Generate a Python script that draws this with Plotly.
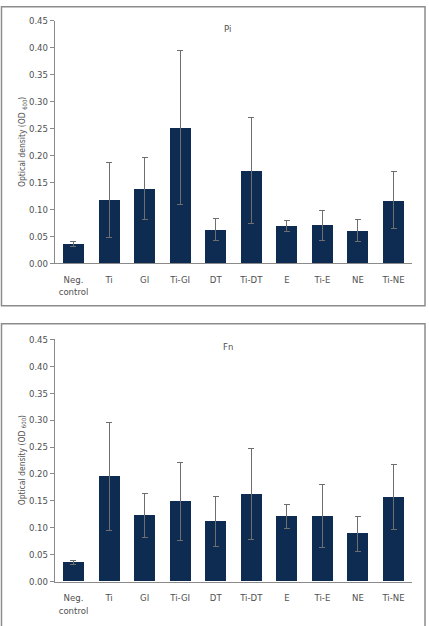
import plotly.graph_objects as go

categories = ["Neg.<br>control", "Ti", "GI", "Ti-GI", "DT", "Ti-DT", "E", "Ti-E", "NE", "Ti-NE"]
pi_values = [0.036, 0.118, 0.139, 0.252, 0.063, 0.172, 0.070, 0.071, 0.061, 0.117]
pi_errors = [0.004, 0.070, 0.057, 0.142, 0.020, 0.098, 0.010, 0.028, 0.021, 0.053]
fn_values = [0.036, 0.195, 0.123, 0.149, 0.112, 0.163, 0.121, 0.122, 0.089, 0.157]
fn_errors = [0.004, 0.100, 0.041, 0.072, 0.047, 0.084, 0.023, 0.059, 0.032, 0.060]
y_ticks = [0.0, 0.05, 0.10, 0.15, 0.20, 0.25, 0.30, 0.35, 0.40, 0.45]
y_ticklabels = ["0.00", "0.05", "0.10", "0.15", "0.20", "0.25", "0.30", "0.35", "0.40", "0.45"]
panel_titles = ["Pi", "Fn"]
y_title = "Optical density (OD <sub>600</sub>)"

W, H = 429, 626
FONT = "DejaVu Sans Condensed, Liberation Sans Narrow, sans-serif"
BAR = "#0e2c52"
AX = "#8a8a8a"
TXT = "#505050"

fig = go.Figure()
x_idx = list(range(len(categories)))
for i, (vals, errs) in enumerate([(pi_values, pi_errors), (fn_values, fn_errors)]):
    sfx = "" if i == 0 else "2"
    fig.add_trace(go.Bar(
        x=x_idx, y=vals, width=0.59, marker=dict(color=BAR, line=dict(width=0)),
        error_y=dict(type="data", array=errs, visible=True, color="#6e6e6e", thickness=1, width=3),
        xaxis="x" + sfx, yaxis="y" + sfx, showlegend=False,
    ))

xdom = [55 / W, 412 / W]
ydom_top = [1 - 262 / H, 1 - 15 / H]
ydom_bot = [1 - 586 / H, 1 - 339.3 / H]

xaxis_common = dict(
    domain=xdom, range=[-0.52, 9.52], tickmode="array", tickvals=x_idx, ticktext=categories,
    showline=True, linecolor=AX, linewidth=1.2, ticks="outside", ticklen=7,
    tickcolor="rgba(0,0,0,0)", showgrid=False, zeroline=False,
    tickfont=dict(family=FONT, size=9.5, color=TXT), fixedrange=True,
)
yaxis_common = dict(
    range=[0, 0.45], tickmode="array", tickvals=y_ticks, ticktext=y_ticklabels,
    showline=True, linecolor=AX, linewidth=1.2, ticks="outside", ticklen=4, tickcolor=AX,
    tickwidth=1, showgrid=False, zeroline=False,
    tickfont=dict(family=FONT, size=9.5, color=TXT),
)

fig.update_layout(
    width=W, height=H, margin=dict(l=0, r=0, t=0, b=0),
    paper_bgcolor="white", plot_bgcolor="white", bargap=0,
    xaxis=dict(anchor="y", **xaxis_common),
    yaxis=dict(domain=ydom_top, anchor="x", **yaxis_common),
    xaxis2=dict(anchor="y2", **xaxis_common),
    yaxis2=dict(domain=ydom_bot, anchor="x2", **yaxis_common),
)

shapes = [
    dict(type="rect", xref="paper", yref="paper", x0=1.5 / W, x1=425 / W, y0=1 - 305 / H, y1=1 - 0.8 / H,
         line=dict(color="#8c8c8c", width=1.5)),
    dict(type="rect", xref="paper", yref="paper", x0=1.5 / W, x1=425 / W, y0=-0.02, y1=1 - 323.5 / H,
         line=dict(color="#8c8c8c", width=1.5)),
]
fig.update_layout(shapes=shapes)

annotations = []
for t, yc in zip(panel_titles, [23, 347]):
    annotations.append(dict(text=t, xref="paper", yref="paper", x=227.5 / W, y=1 - yc / H,
                            xanchor="center", yanchor="middle", showarrow=False,
                            font=dict(family=FONT, size=9.5, color=TXT)))
for yc in [138.5, 462.5]:
    annotations.append(dict(text=y_title, xref="paper", yref="paper", x=22 / W, y=1 - yc / H,
                            xanchor="center", yanchor="middle", textangle=-90, showarrow=False,
                            font=dict(family=FONT, size=8.5, color=TXT)))
fig.update_layout(annotations=annotations)

fig.write_html("out.html")
